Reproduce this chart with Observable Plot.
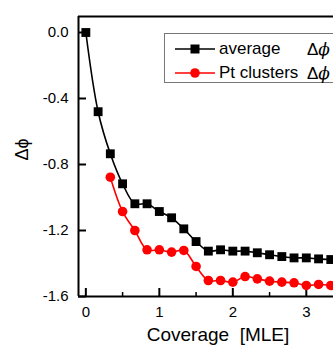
<!DOCTYPE html>
<html>
<head>
<meta charset="utf-8">
<script src="https://cdn.jsdelivr.net/npm/d3@7"></script>
<script src="https://cdn.jsdelivr.net/npm/@observablehq/plot@0.6"></script>
<style>
  html, body { margin: 0; padding: 0; background: #fff; overflow: hidden; }
  #wrap { position: relative; width: 333px; height: 348px; font-family: "Liberation Sans", Arial, sans-serif; }
  #legend { position: absolute; left: 164px; top: 33px; width: 190px; height: 48px; border: 1px solid #777; background: #fff; }
  .row { position: absolute; left: 0; height: 24px; font-size: 17px; line-height: 24px; color: #000; white-space: nowrap; }
  .row svg { position: absolute; left: 10px; top: 0; }
  .row .name { position: absolute; left: 54px; }
  .row .sym { position: absolute; left: 142px; }
  .row .sym i { font-family: "DejaVu Serif", serif; }
</style>
</head>
<body>
<div id="wrap"></div>
<script>
const coverage = [0, 0.167, 0.333, 0.5, 0.667, 0.833, 1.0, 1.167, 1.333, 1.5, 1.667, 1.833, 2.0, 2.167, 2.333, 2.5, 2.667, 2.833, 3.0, 3.167, 3.333];
const averageDphi = [0, -0.48, -0.735, -0.917, -1.038, -1.038, -1.085, -1.123, -1.19, -1.267, -1.325, -1.317, -1.325, -1.325, -1.335, -1.347, -1.358, -1.366, -1.366, -1.372, -1.376];
const clusterCoverage = coverage.slice(2);
const clusterDphi = [-0.877, -1.085, -1.2, -1.317, -1.317, -1.331, -1.321, -1.418, -1.503, -1.503, -1.513, -1.479, -1.493, -1.507, -1.513, -1.517, -1.533, -1.527, -1.533];
const xTicks = [0, 1, 2, 3];
const xMinorTicks = [0.5, 1.5, 2.5];
const yTicks = [0, -0.4, -0.8, -1.2, -1.6];
const yTickLabels = ["0.0", "-0.4", "-0.8", "-1.2", "-1.6"];
const seriesNames = ["average", "Pt clusters"];
const seriesColors = ["#000000", "#ff0000"];

const avgData = coverage.map((x, i) => ({x, y: averageDphi[i]}));
const clData = clusterCoverage.map((x, i) => ({x, y: clusterDphi[i]}));

const xDom = [-0.1, 3.37];
const yDom = [-1.6, 0.097];
const W = 333, H = 348, mL = 78, mR = 0, mT = 16, mB = 52;
const plotW = W - mL - mR, plotH = H - mT - mB;

const chart = Plot.plot({
  width: W,
  height: H,
  marginLeft: mL,
  marginRight: mR,
  marginTop: mT,
  marginBottom: mB,
  style: {fontFamily: "'Liberation Sans', Arial, sans-serif", fontSize: "15px", color: "#000", background: "#fff", overflow: "hidden"},
  x: {domain: xDom},
  y: {domain: yDom},
  marks: [
    Plot.axisX(xTicks, {tickSize: 0, tickPadding: 10, tickFormat: d => String(d), fontSize: 15, label: null}),
    Plot.axisY(yTicks, {tickSize: 0, tickPadding: 10, tickFormat: d => yTickLabels[yTicks.indexOf(d)], fontSize: 15, label: null}),
    Plot.ruleY([yDom[0], yDom[1]], {stroke: "#000", strokeWidth: 2}),
    Plot.ruleX([xDom[0]], {stroke: "#000", strokeWidth: 2}),
    Plot.ruleX(xTicks, {x: d => d, insetTop: plotH - 8, stroke: "#000", strokeWidth: 2}),
    Plot.ruleX(xMinorTicks, {x: d => d, insetTop: plotH - 4, stroke: "#000", strokeWidth: 1.5}),
    Plot.ruleY(yTicks, {y: d => d, insetRight: plotW - 8, stroke: "#000", strokeWidth: 2}),
    Plot.line(avgData, {x: "x", y: "y", stroke: seriesColors[0], strokeWidth: 1.6, curve: "catmull-rom"}),
    Plot.dot(avgData, {x: "x", y: "y", symbol: "square", r: 5, fill: seriesColors[0]}),
    Plot.line(clData, {x: "x", y: "y", stroke: seriesColors[1], strokeWidth: 1.6, curve: "catmull-rom"}),
    Plot.dot(clData, {x: "x", y: "y", symbol: "circle", r: 4.8, fill: seriesColors[1]}),
    Plot.text(["Coverage\u00a0\u00a0[MLE]"], {frameAnchor: "bottom", dx: 12, dy: 44, fontSize: 19, text: d => d}),
    Plot.text(["\u0394\u03d5"], {frameAnchor: "left", dx: -56, dy: 4, rotate: -90, fontSize: 18, text: d => d})
  ]
});
const wrap = document.getElementById("wrap");
wrap.appendChild(chart);

const legend = document.createElement("div");
legend.id = "legend";
seriesNames.forEach((name, i) => {
  const row = document.createElement("div");
  row.className = "row";
  row.style.top = (i * 24 + 3) + "px";
  const marker = i === 0
    ? `<rect x="15.5" y="7.5" width="9" height="9" fill="${seriesColors[i]}"/>`
    : `<circle cx="20" cy="12" r="4.8" fill="${seriesColors[i]}"/>`;
  row.innerHTML = `<svg width="40" height="24"><line x1="0" x2="40" y1="12" y2="12" stroke="${seriesColors[i]}" stroke-width="1.5"/>${marker}</svg><span class="name">${name}</span><span class="sym">\u0394<i>\u03d5</i></span>`;
  legend.appendChild(row);
});
wrap.appendChild(legend);
</script>
</body>
</html>
